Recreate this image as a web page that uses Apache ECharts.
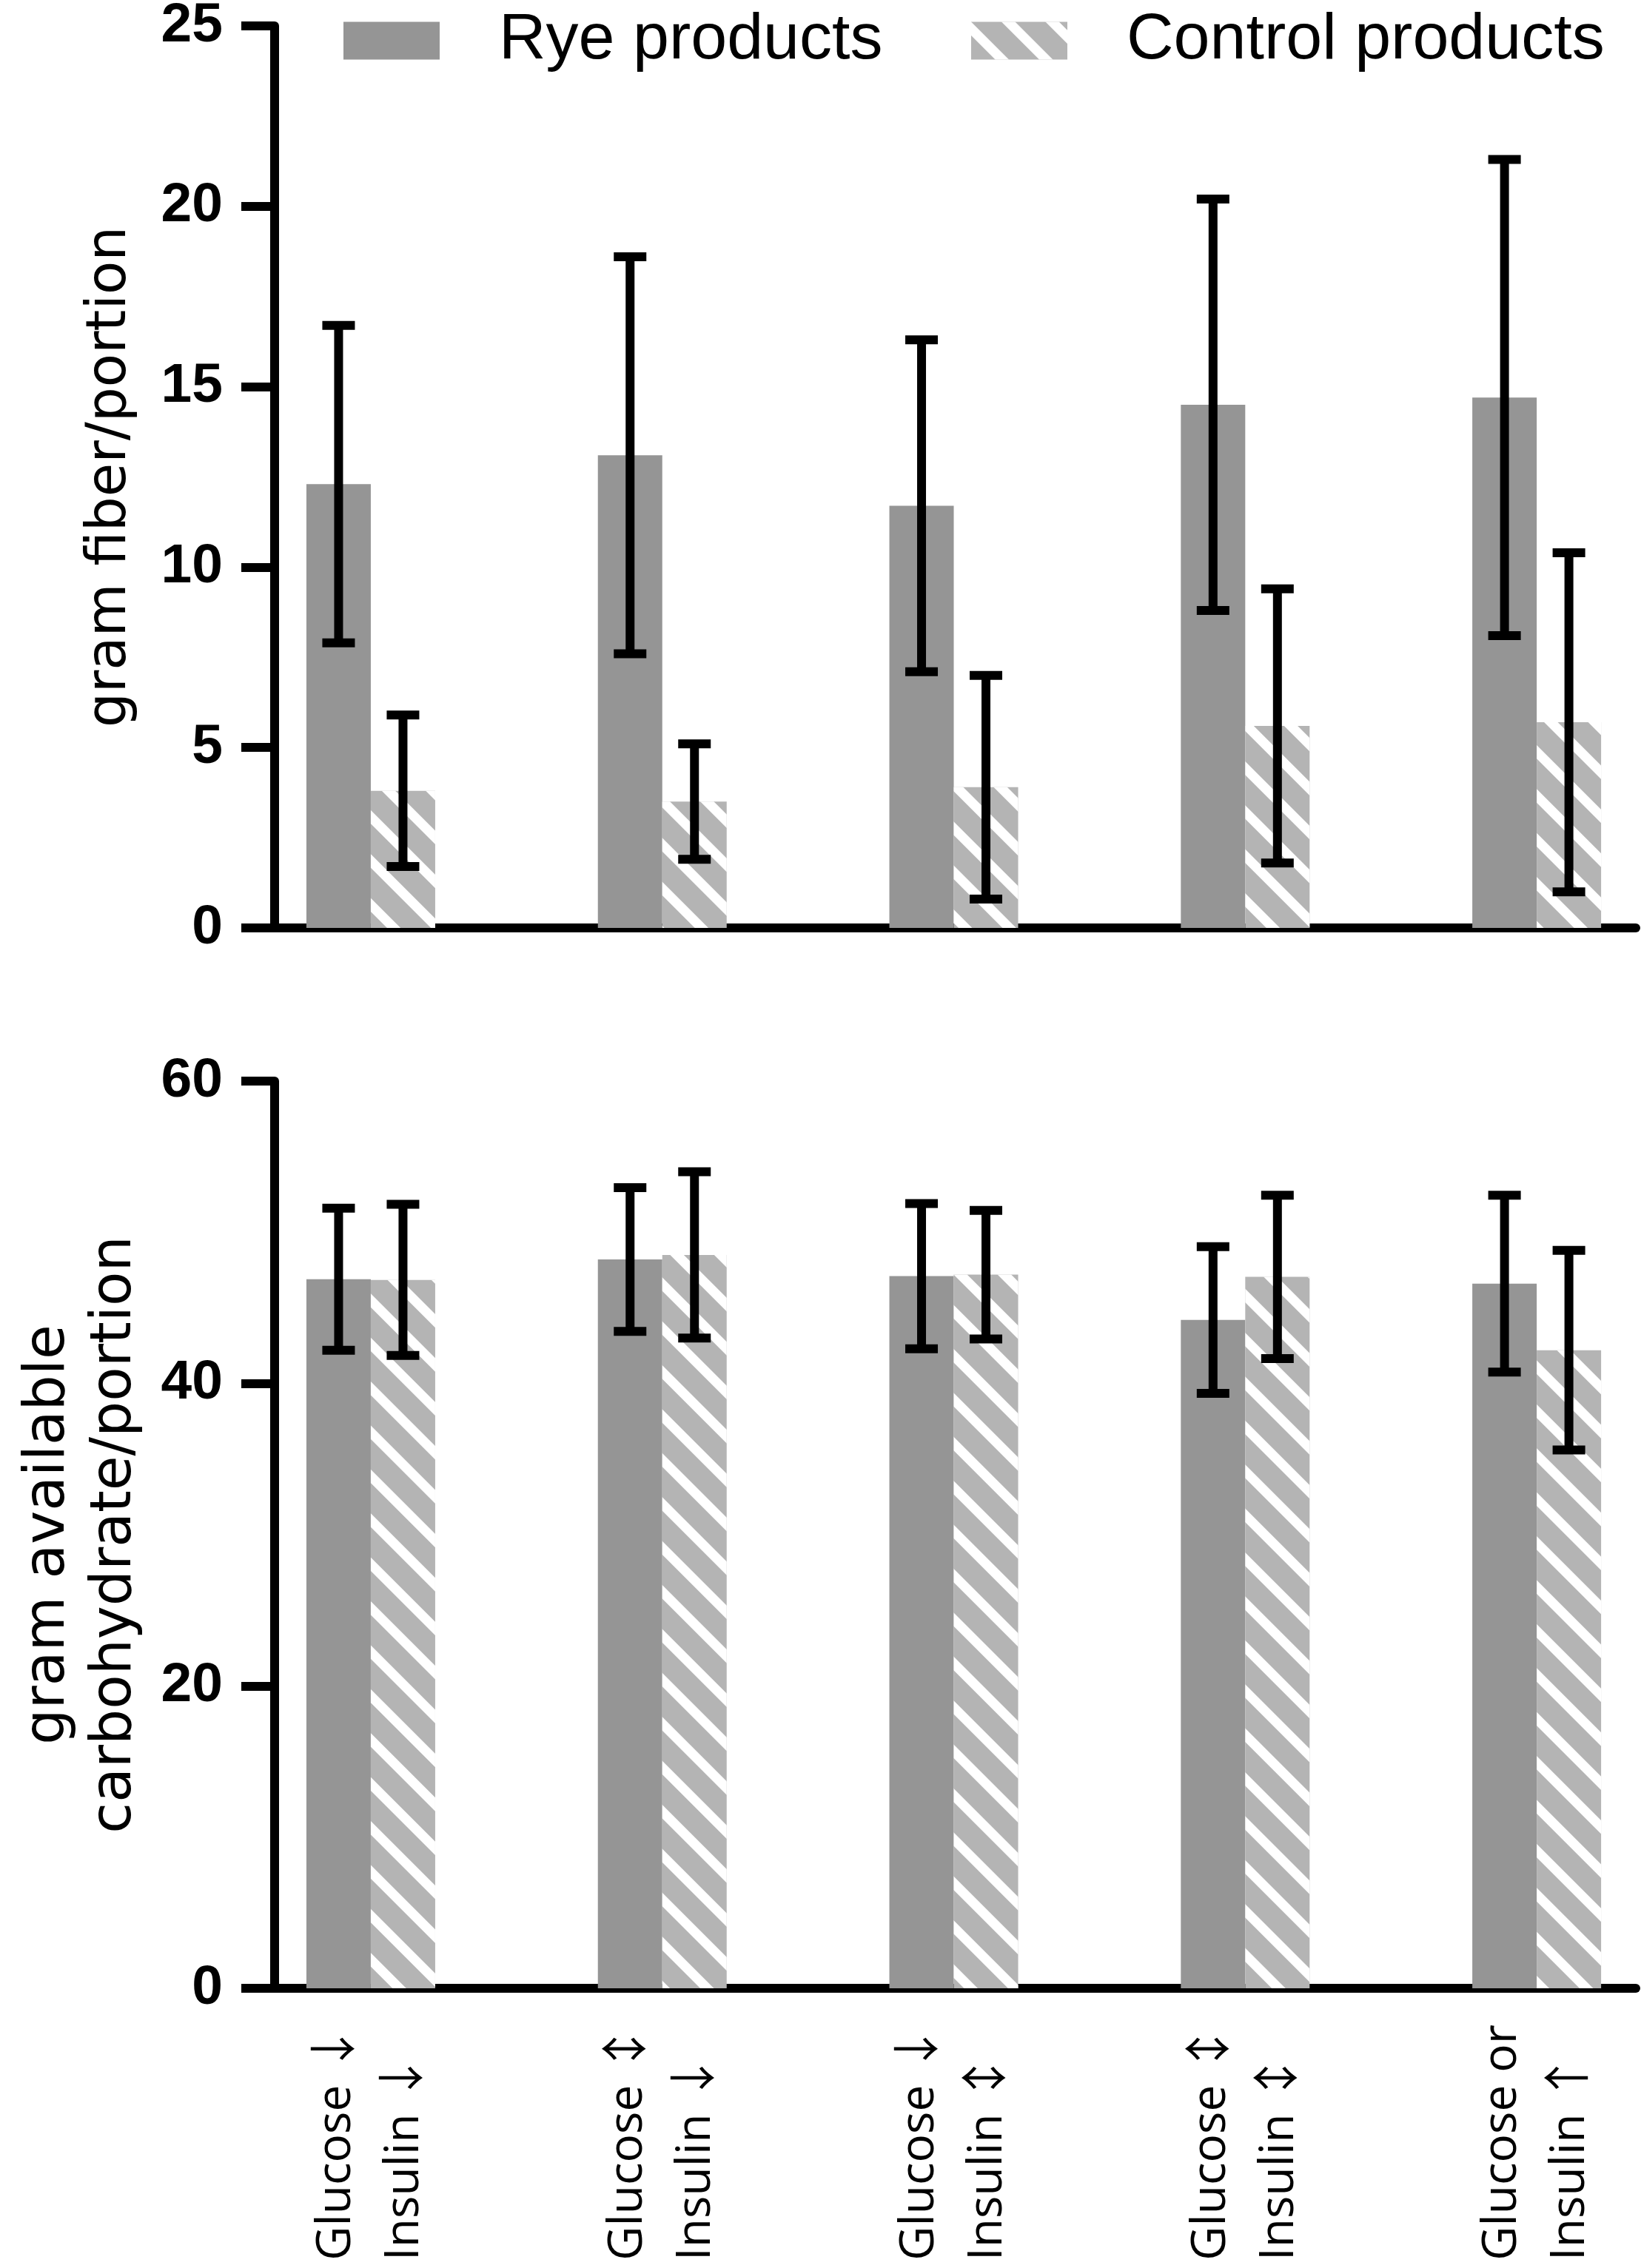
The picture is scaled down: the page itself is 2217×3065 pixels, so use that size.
<!DOCTYPE html>
<html>
<head>
<meta charset="utf-8">
<title>Fiber and carbohydrate per portion</title>
<script src="https://cdn.jsdelivr.net/npm/echarts@6/dist/echarts.min.js"></script>
<style>
  html, body { margin: 0; padding: 0; background: #fff; }
  #chart { width: 2217px; height: 3065px; }
</style>
</head>
<body>
<div id="chart"></div>
<script>
// 数据：每组产品的均值与标准差
const groups = [
  'Glucose \u2193\nInsulin \u2193',
  'Glucose \u2195\nInsulin \u2193',
  'Glucose \u2193\nInsulin \u2195',
  'Glucose \u2195\nInsulin \u2195',
  'Glucose or\nInsulin \u2191'
];
const seriesNames = ['Rye products', 'Control products'];

// 上图：gram fiber/portion
const fiberRye = [12.3, 13.1, 11.7, 14.5, 14.7];
const fiberRyeSd = [4.4, 5.5, 4.6, 5.7, 6.6];
const fiberControl = [3.8, 3.5, 3.9, 5.6, 5.7];
const fiberControlSd = [2.1, 1.6, 3.1, 3.8, 4.7];

// 下图：gram available carbohydrate/portion
const carbRye = [46.9, 48.2, 47.1, 44.2, 46.6];
const carbRyeSd = [4.7, 4.75, 4.8, 4.85, 5.85];
const carbControl = [46.85, 48.5, 47.2, 47.05, 42.2];
const carbControlSd = [5.0, 5.5, 4.25, 5.4, 6.6];

const fiberTicks = { min: 0, max: 25, interval: 5 };
const carbTicks = { min: 0, max: 60, interval: 20 };

const RYE_COLOR = '#959595';
const CONTROL_COLOR = '#b4b4b4';
const BAR_W = 87;

const stripes = {
  symbol: 'rect',
  symbolSize: 1,
  color: '#ffffff',
  dashArrayX: [1, 0],
  dashArrayY: [13, 29],
  rotation: Math.PI / 4
};

const chart = echarts.init(document.getElementById('chart'));

function barData(values) {
  return values.map((v, i) => [i, v]);
}

function errData(values, sds) {
  return values.map((v, i) => [i, v - sds[i], v + sds[i]]);
}

// 误差线（带端帽）
function errorBar(shift) {
  return function (params, api) {
    const x = api.value(0);
    const lo = api.coord([x, api.value(1)]);
    const hi = api.coord([x, api.value(2)]);
    const cx = lo[0] + shift;
    const half = 22;
    const style = { stroke: '#000', lineWidth: 12 };
    return {
      type: 'group',
      children: [
        { type: 'line', shape: { x1: cx, y1: hi[1], x2: cx, y2: lo[1] }, style },
        { type: 'line', shape: { x1: cx - half, y1: hi[1], x2: cx + half, y2: hi[1] }, style },
        { type: 'line', shape: { x1: cx - half, y1: lo[1], x2: cx + half, y2: lo[1] }, style }
      ]
    };
  };
}

const axisLineStyle = { color: '#000', width: 12 };
const yLabel = {
  color: '#000',
  fontFamily: 'Liberation Sans',
  fontWeight: 'bold',
  fontSize: 75,
  margin: 70
};

function xAxis(gridIndex, showLabels) {
  return {
    type: 'value',
    gridIndex: gridIndex,
    min: -0.33,
    max: 4.34,
    axisLine: { show: true, onZero: false, lineStyle: axisLineStyle },
    axisTick: { show: false },
    splitLine: { show: false },
    axisLabel: {
      show: showLabels,
      customValues: [0, 1, 2, 3, 4],
      formatter: (v) => groups[Math.round(v)],
      rotate: 90,
      align: 'left',
      margin: 368,
      color: '#000',
      fontFamily: "'Open Sans', 'Noto Sans CJK SC', 'DejaVu Sans'",
      fontSize: 64,
      lineHeight: 92
    }
  };
}

function yAxis(gridIndex, ticks, name, nameGap, nameSize, nameLine) {
  return {
    type: 'value',
    gridIndex: gridIndex,
    min: ticks.min,
    max: ticks.max,
    interval: ticks.interval,
    name: name,
    nameLocation: 'middle',
    nameGap: nameGap,
    nameTextStyle: {
      color: '#000',
      fontFamily: 'DejaVu Sans',
      fontSize: nameSize,
      lineHeight: nameLine
    },
    axisLine: { show: true, onZero: false, lineStyle: axisLineStyle },
    axisTick: { show: true, inside: false, length: 45, lineStyle: { color: '#000', width: 12 } },
    splitLine: { show: false },
    axisLabel: yLabel
  };
}

function barSeries(name, axisIndex, values, color, decal) {
  return {
    name: name,
    type: 'bar',
    xAxisIndex: axisIndex,
    yAxisIndex: axisIndex,
    data: barData(values),
    barWidth: BAR_W,
    barGap: '0%',
    itemStyle: decal ? { color: color, decal: decal } : { color: color },
    emphasis: { disabled: true },
    z: 2
  };
}

function errSeries(axisIndex, values, sds, shift) {
  return {
    type: 'custom',
    xAxisIndex: axisIndex,
    yAxisIndex: axisIndex,
    data: errData(values, sds),
    encode: { x: 0, y: [1, 2] },
    renderItem: errorBar(shift),
    silent: true,
    z: 5
  };
}

function legend(name, left) {
  return {
    data: [name],
    left: left,
    top: 11,
    padding: 0,
    icon: 'rect',
    itemWidth: 130,
    itemHeight: 51,
    selectedMode: false,
    textStyle: {
      color: '#000',
      fontFamily: 'Liberation Sans',
      fontSize: 88,
      padding: [0, 0, 0, 75]
    }
  };
}

const option = {
  animation: false,
  backgroundColor: '#fff',
  legend: [legend(seriesNames[0], 464), legend(seriesNames[1], 1312)],
  grid: [
    { left: 371, right: 7, top: 35, height: 1219, outerBoundsMode: 'none' },
    { left: 371, right: 7, top: 1461, height: 1226, outerBoundsMode: 'none' }
  ],
  xAxis: [xAxis(0, false), xAxis(1, true)],
  yAxis: [
    yAxis(0, fiberTicks, 'gram fiber/portion', 184, 74, 74),
    yAxis(1, carbTicks, 'gram available\ncarbohydrate/portion', 170, 76, 90)
  ],
  series: [
    barSeries(seriesNames[0], 0, fiberRye, RYE_COLOR),
    barSeries(seriesNames[1], 0, fiberControl, CONTROL_COLOR, stripes),
    errSeries(0, fiberRye, fiberRyeSd, -BAR_W / 2),
    errSeries(0, fiberControl, fiberControlSd, BAR_W / 2),
    barSeries(seriesNames[0], 1, carbRye, RYE_COLOR),
    barSeries(seriesNames[1], 1, carbControl, CONTROL_COLOR, stripes),
    errSeries(1, carbRye, carbRyeSd, -BAR_W / 2),
    errSeries(1, carbControl, carbControlSd, BAR_W / 2)
  ]
};

chart.setOption(option);
</script>
</body>
</html>
